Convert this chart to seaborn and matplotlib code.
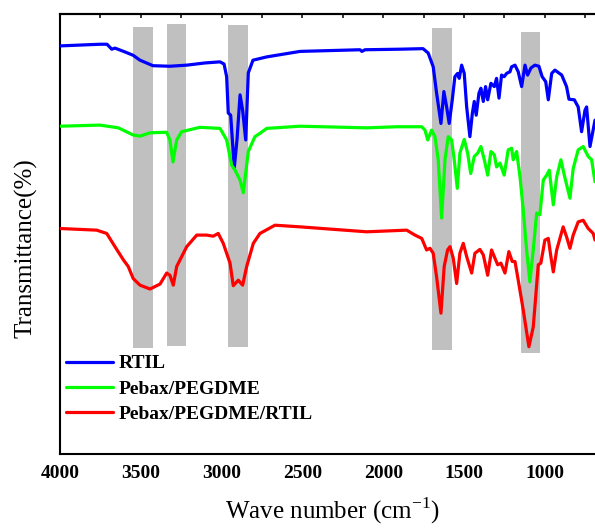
import numpy as np
import pandas as pd
import matplotlib
matplotlib.use("Agg")
import matplotlib.pyplot as plt
from matplotlib.ticker import MultipleLocator
import seaborn as sns

# ---------------- data ----------------
series_names = ["RTIL", "Pebax/PEGDME", "Pebax/PEGDME/RTIL"]
series_colors = ["#0000ff", "#00ff00", "#ff0000"]

rtil_wn = [4000, 3753, 3709, 3680, 3660, 3598, 3548, 3505, 3425, 3320, 3216, 3103, 3010, 2985,
           2969, 2959, 2944, 2922, 2905, 2886, 2870, 2851, 2835, 2806, 2721, 2515, 2144, 2132,
           2113, 1897, 1754, 1722, 1691, 1670, 1643, 1625, 1608, 1592, 1573, 1557, 1540, 1530,
           1515, 1499, 1484, 1464, 1449, 1437, 1425, 1408, 1396, 1381, 1367, 1354, 1334, 1313,
           1299, 1284, 1268, 1252, 1237, 1216, 1206, 1185, 1165, 1144, 1123, 1107, 1086, 1062,
           1037, 1017, 995, 979, 958, 938, 896, 866, 851, 818, 794, 773, 752, 742, 721, 690]
rtil_t = [74.2, 74.5, 74.5, 73.6, 73.8, 73.1, 72.5, 71.6, 70.6, 70.5, 70.7, 71.1, 71.3, 70.9,
          68.6, 62.0, 61.6, 52.0, 57.1, 65.3, 62.5, 57.1, 69.3, 71.6, 72.2, 73.2, 73.5, 73.2,
          73.5, 73.6, 73.7, 72.9, 70.4, 65.6, 60.1, 65.9, 63.1, 60.1, 64.4, 68.6, 69.2, 68.3,
          70.7, 69.2, 63.1, 57.7, 61.9, 64.1, 61.6, 65.6, 66.5, 64.1, 66.8, 64.4, 67.4, 66.8,
          68.3, 64.7, 68.9, 68.6, 69.2, 69.5, 70.4, 70.7, 69.5, 66.8, 70.7, 68.9, 70.2, 70.7,
          70.5, 68.6, 67.7, 64.4, 69.2, 69.8, 68.9, 66.8, 64.5, 64.4, 63.1, 58.6, 62.5, 63.1, 55.9, 60.7]

peg_wn = [4000, 3753, 3639, 3547, 3505, 3443, 3340, 3320, 3301, 3278, 3247, 3134, 3010, 2969,
          2938, 2917, 2886, 2866, 2835, 2794, 2763, 2721, 2515, 2103, 1917, 1762, 1742, 1725,
          1701, 1680, 1660, 1639, 1618, 1598, 1577, 1561, 1542, 1526, 1499, 1478, 1459, 1437,
          1416, 1396, 1375, 1354, 1334, 1313, 1299, 1278, 1252, 1227, 1206, 1196, 1175, 1154,
          1134, 1113, 1093, 1072, 1051, 1031, 1010, 989, 973, 948, 927, 901, 880, 845, 825,
          794, 763, 732, 711, 690]
peg_t = [59.6, 59.8, 59.3, 58.0, 57.8, 58.4, 58.5, 57.1, 53.1, 57.1, 58.6, 59.4, 59.2, 57.1,
         52.5, 51.6, 49.8, 47.5, 55.0, 57.7, 58.3, 59.2, 59.6, 59.3, 59.5, 59.5, 58.9, 57.1,
         58.9, 57.7, 53.5, 42.9, 53.5, 57.7, 57.1, 53.5, 48.3, 54.7, 57.2, 54.7, 51.0, 54.1,
         54.7, 55.9, 53.5, 50.7, 55.0, 54.4, 52.2, 52.9, 50.7, 55.3, 55.6, 53.5, 55.0, 50.4,
         44.4, 37.1, 31.3, 37.1, 43.8, 43.5, 49.8, 50.7, 51.6, 45.3, 50.4, 53.5, 50.7, 46.5, 51.9,
         55.3, 55.9, 54.1, 53.5, 49.5]

mix_wn = [4000, 3773, 3711, 3660, 3608, 3578, 3547, 3505, 3443, 3381, 3340, 3320, 3299, 3278,
          3216, 3154, 3093, 3052, 3021, 2990, 2948, 2928, 2897, 2870, 2845, 2804, 2763, 2670,
          2515, 2103, 1855, 1804, 1762, 1732, 1711, 1691, 1670, 1643, 1623, 1602, 1587, 1567,
          1546, 1526, 1505, 1484, 1453, 1433, 1402, 1381, 1354, 1330, 1309, 1292, 1272, 1247,
          1223, 1202, 1185, 1165, 1134, 1099, 1072, 1041, 1025, 1000, 979, 963, 948, 927, 887,
          866, 845, 825, 794, 763, 732, 701, 690]
mix_t = [41.0, 40.7, 40.1, 37.7, 35.3, 34.1, 31.9, 30.7, 30.0, 30.9, 32.9, 32.5, 30.7, 34.1,
         37.7, 39.8, 39.8, 39.6, 40.1, 38.3, 34.7, 30.6, 31.6, 30.7, 34.1, 38.3, 40.1, 41.6,
         41.3, 40.4, 40.7, 39.8, 39.2, 37.1, 37.4, 36.5, 32.2, 25.6, 34.1, 37.1, 37.7, 35.6,
         31.0, 36.5, 38.3, 35.9, 32.9, 36.5, 37.2, 36.2, 32.5, 37.1, 35.6, 34.4, 34.7, 32.9,
         36.8, 35.0, 35.0, 31.6, 26.2, 19.5, 23.1, 34.4, 34.7, 38.9, 39.2, 35.9, 33.1, 37.1, 41.3,
         39.5, 37.4, 39.8, 42.2, 42.5, 41.0, 40.1, 38.9]

# shaded bands (cm-1 range and transmittance span)
band_hi = [3546, 3340, 2960, 1696, 1147]
band_lo = [3426, 3222, 2839, 1574, 1030]
band_bottom = [19.3, 19.7, 19.4, 19.0, 18.4]
band_top = [77.7, 78.1, 78.0, 77.5, 76.7]

x_ticks = [4000, 3500, 3000, 2500, 2000, 1500, 1000]

# ---------------- plot ----------------
sns.set_style("white")
plt.rcParams["font.family"] = ["Liberation Serif", "DejaVu Serif"]
plt.rcParams["mathtext.fontset"] = "custom"
plt.rcParams["mathtext.rm"] = "Liberation Serif"
plt.rcParams["text.color"] = "black"
plt.rcParams["axes.labelcolor"] = "black"
plt.rcParams["xtick.color"] = "black"
plt.rcParams["ytick.color"] = "black"

fig = plt.figure(figsize=(5.95, 5.29), dpi=100)
ax = fig.add_axes([60 / 595, 75 / 529, 535 / 595, 440 / 529])

ax.bar(band_lo, np.array(band_top) - np.array(band_bottom), bottom=band_bottom,
       width=np.array(band_hi) - np.array(band_lo), align="edge",
       color="#c0c0c0", edgecolor="none", zorder=1)

for name, color, wn, t in zip(series_names, series_colors,
                              [rtil_wn, peg_wn, mix_wn], [rtil_t, peg_t, mix_t]):
    df = pd.DataFrame({"wn": wn, "t": t})
    sns.lineplot(data=df, x="wn", y="t", ax=ax, color=color, lw=2.3,
                 estimator=None, label=name, zorder=3)

ax.set_xlim(4000, 690)
ax.set_ylim(0, 80)
ax.set_xticks(x_ticks)
ax.xaxis.set_minor_locator(MultipleLocator(250))
ax.yaxis.set_major_locator(MultipleLocator(5))
ax.set_yticklabels([])
ax.tick_params(axis="x", which="major", direction="in", length=8, width=1.3,
               labelsize=14, pad=8, top=False, colors="black")
ax.tick_params(axis="x", which="minor", direction="in", length=4, width=1.1, top=False,
               colors="black")
ax.tick_params(axis="y", which="major", direction="in", length=4, width=1.1, right=False,
               colors="black")
for lab in ax.get_xticklabels():
    lab.set_fontweight("bold")

sec = ax.secondary_xaxis("top")
sec.set_xticks(x_ticks)
sec.xaxis.set_minor_locator(MultipleLocator(250))
sec.tick_params(which="both", direction="in", length=3, width=1.1, labeltop=False,
                colors="black")
sec.spines["top"].set_linewidth(1.5)
sec.spines["top"].set_color("black")

for s in ["left", "bottom", "top"]:
    ax.spines[s].set_linewidth(1.5)
    ax.spines[s].set_color("black")
ax.spines["right"].set_visible(False)

ax.set_xlabel("Wave number (cm$^{\\mathregular{-1}}$)", fontsize=18, color="black")
ax.set_ylabel("Transmittance(%)", fontsize=18, color="black")
ax.yaxis.set_label_coords(-0.042, 0.468)
ax.xaxis.set_label_coords(0.51, -0.095)
ax.xaxis.label.set_va("top")

leg = ax.legend(loc="upper left", bbox_to_anchor=(0.0, 0.2386), frameon=False,
                prop={"family": "Liberation Serif", "weight": "bold", "size": 14},
                handlelength=2.4, handletextpad=0.3, labelspacing=0.4, borderaxespad=0.0,
                borderpad=0.3)
for txt in leg.get_texts():
    txt.set_color("black")

fig.savefig("out.png", dpi=100)
